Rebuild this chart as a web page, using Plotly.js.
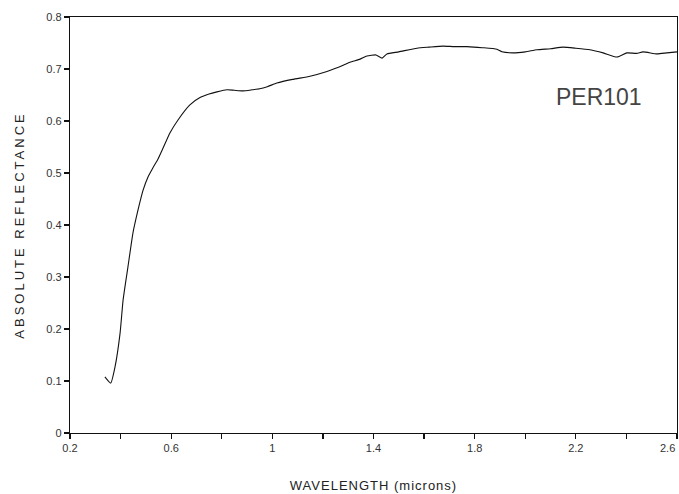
<!DOCTYPE html>
<html><head><meta charset="utf-8">
<script src="https://cdn.plot.ly/plotly-3.0.1.min.js"></script>
<style>html,body{margin:0;padding:0;background:#fff}
.xtitle{letter-spacing:1px}
.ytitle{letter-spacing:3px}
</style>
</head><body><div id="chart" style="width:679px;height:494px"></div>
<script>
const wavelength = [0.338,0.361,0.378,0.398,0.41,0.429,0.449,0.469,0.489,0.508,0.528,0.548,0.568,0.595,0.627,0.674,0.714,0.75,0.781,0.82,0.85,0.884,0.92,0.95,0.98,1.018,1.08,1.149,1.216,1.28,1.307,1.347,1.374,1.41,1.434,1.453,1.5,1.572,1.62,1.675,1.72,1.77,1.83,1.888,1.908,1.952,2.0,2.046,2.1,2.149,2.2,2.256,2.308,2.363,2.402,2.44,2.466,2.521,2.56,2.6];
const reflectance = [0.108,0.096,0.127,0.192,0.256,0.319,0.385,0.429,0.467,0.492,0.51,0.527,0.548,0.577,0.602,0.631,0.645,0.652,0.656,0.66,0.659,0.658,0.66,0.662,0.666,0.673,0.68,0.686,0.695,0.707,0.713,0.719,0.725,0.727,0.721,0.729,0.733,0.740,0.742,0.744,0.743,0.743,0.741,0.738,0.733,0.731,0.733,0.737,0.739,0.742,0.740,0.737,0.731,0.723,0.731,0.730,0.733,0.729,0.731,0.733];
const xTickVals = [0.2,0.6,1,1.4,1.8,2.2,2.6];
const xTickText = ['0.2','0.6','1','1.4','1.8','2.2','2.6'];
const sampleLabel = 'PER101';
const xTitle = 'WAVELENGTH (microns)';
const yTitle = 'ABSOLUTE REFLECTANCE';

const tickFont = {family:'Liberation Sans, Arial, sans-serif', size:11, color:'#333'};
const lastIdx = xTickVals.length - 1;
// last label sits flush against the right edge, as in the original
const axisText = xTickText.map((t, i) => i === lastIdx ? '' : t);
const data = [{x:wavelength, y:reflectance, type:'scatter', mode:'lines',
  line:{color:'#111', width:1.1, shape:'spline', smoothing:0.5}, hoverinfo:'skip'}];
const layout = {
  width:679, height:494,
  margin:{l:70, r:2, t:17, b:61},
  paper_bgcolor:'#fff', plot_bgcolor:'#fff',
  showlegend:false,
  xaxis:{range:[0.2,2.6], tickmode:'array', tickvals:xTickVals, ticktext:axisText,
    ticks:'outside', ticklen:5, tickwidth:1.2, tickcolor:'#111',
    minor:{dtick:0.2, tick0:0.2, ticks:'outside', ticklen:5, tickwidth:1.2, tickcolor:'#111'},
    showline:true, linecolor:'#111', linewidth:1.2, mirror:true, showgrid:false, zeroline:false,
    tickfont:tickFont, title:{text:xTitle, font:{family:'Liberation Sans, Arial, sans-serif', size:13, color:'#222'}, standoff:27}},
  yaxis:{range:[0,0.8], dtick:0.1, ticks:'outside', ticklen:5, tickwidth:1.2, tickcolor:'#111',
    showline:true, linecolor:'#111', linewidth:1.2, mirror:true, showgrid:false, zeroline:false,
    tickfont:tickFont, title:{text:yTitle, font:{family:'Liberation Sans, Arial, sans-serif', size:13, color:'#222'}, standoff:18}},
  annotations:[
    {x:2.292, y:0.646, xref:'x', yref:'y', text:sampleLabel, showarrow:false,
      font:{family:'Liberation Sans, Arial, sans-serif', size:23, color:'#444'}},
    {x:xTickVals[lastIdx], y:0, xref:'x', yref:'paper', xanchor:'right', yanchor:'top', yshift:-7,
      text:xTickText[lastIdx], showarrow:false, font:tickFont}
  ]
};
Plotly.newPlot('chart', data, layout, {displayModeBar:false, staticPlot:true});
</script></body></html>
